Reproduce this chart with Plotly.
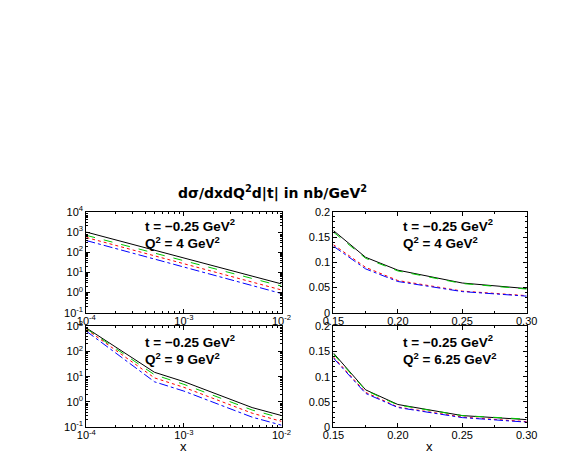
import plotly.graph_objects as go

# panel a: Q^2 = 4, small x (log-log)
x_a = [1e-4, 5e-4, 1e-3, 5e-3, 1e-2]
black_a = [1000, 125, 52, 6.5, 2.7]
green_a = [690, 91, 38, 5.0, 2.1]
red_a = [540, 66, 27, 3.3, 1.35]
blue_a = [380, 46, 18.5, 2.2, 0.9]

# panel b: Q^2 = 4, large x
x_b = [0.15, 0.175, 0.20, 0.25, 0.30]
black_b = [0.163, 0.110, 0.0845, 0.059, 0.048]
green_b = [0.160, 0.108, 0.083, 0.058, 0.047]
red_b = [0.135, 0.090, 0.064, 0.043, 0.034]
blue_b = [0.132, 0.087, 0.062, 0.042, 0.033]

# panel c: Q^2 = 9, small x
x_c = [1e-4, 5e-4, 1e-3, 5e-3, 1e-2]
black_c = [860, 15, 6.4, 0.6, 0.29]
green_c = [800, 12, 5.0, 0.48, 0.23]
red_c = [760, 9, 3.8, 0.36, 0.17]
blue_c = [640, 6.3, 2.7, 0.25, 0.12]

# panel d: Q^2 = 6.25, large x
x_d = [0.15, 0.175, 0.20, 0.25, 0.30]
black_d = [0.147, 0.074, 0.045, 0.023, 0.015]
green_d = [0.145, 0.073, 0.044, 0.023, 0.016]
red_d = [0.139, 0.069, 0.040, 0.020, 0.011]
blue_d = [0.137, 0.067, 0.039, 0.019, 0.010]

styles = [("black", "solid"), ("#00c800", "dash"), ("red", "dot"), ("blue", "dashdot")]

fig = go.Figure()

panels = [
    ("x", "y", x_a, [black_a, green_a, red_a, blue_a]),
    ("x2", "y2", x_b, [black_b, green_b, red_b, blue_b]),
    ("x3", "y3", x_c, [black_c, green_c, red_c, blue_c]),
    ("x4", "y4", x_d, [black_d, green_d, red_d, blue_d]),
]
for xa, ya, xs, series in panels:
    for (col, dash), ys in zip(styles, series):
        fig.add_trace(go.Scatter(x=xs, y=ys, mode="lines", xaxis=xa, yaxis=ya,
                                 line=dict(color=col, dash=dash, width=1),
                                 showlegend=False))

font = dict(family="Liberation Sans, Arial, sans-serif", size=11, color="black")
axis_common = dict(showgrid=False, zeroline=False, showline=True, linecolor="black",
                   linewidth=1, mirror="allticks", ticks="inside", ticklen=4,
                   tickcolor="black", tickfont=font)

lx = [0.1224, 0.4773]
rx = [0.5717, 0.9231]
top = [0.339, 0.5637]
bot = [0.0842, 0.3089]

logx = dict(type="log", range=[-4, -2], tickvals=[1e-4, 1e-3, 1e-2],
            ticktext=["10<sup>-4</sup>", "10<sup>-3</sup>", "10<sup>-2</sup>"],
            ticklabelstandoff=-2,
            minor=dict(ticks="inside", ticklen=2, tickcolor="black", dtick="D1"))
linx = dict(range=[0.15, 0.30], tickvals=[0.15, 0.20, 0.25, 0.30],
            ticktext=["0.15", "0.20", "0.25", "0.30"],
            ticklabelstandoff=-2,
            minor=dict(ticks="inside", ticklen=2, tickcolor="black", dtick=0.025))
liny = dict(range=[0, 0.2], tickvals=[0, 0.05, 0.1, 0.15, 0.2],
            ticktext=["0", "0.05", "0.1", "0.15", "0.2"],
            minor=dict(ticks="inside", ticklen=2, tickcolor="black", dtick=0.01))

def logy(lo, hi):
    vals = [10 ** k for k in range(lo, hi + 1)]
    return dict(type="log", range=[lo, hi], tickvals=vals,
                ticktext=["10<sup>%d</sup>" % k for k in range(lo, hi + 1)],
                minor=dict(ticks="inside", ticklen=2, tickcolor="black", dtick="D1"))

fig.update_layout(
    width=572, height=463, margin=dict(l=0, r=0, t=0, b=0),
    plot_bgcolor="white", paper_bgcolor="white", font=font,
    xaxis=dict(domain=lx, anchor="y", **logx, **axis_common),
    yaxis=dict(domain=top, anchor="x", **logy(-1, 4), **axis_common),
    xaxis2=dict(domain=rx, anchor="y2", **linx, **axis_common),
    yaxis2=dict(domain=top, anchor="x2", **liny, **axis_common),
    xaxis3=dict(domain=lx, anchor="y3", **logx, **axis_common),
    yaxis3=dict(domain=bot, anchor="x3", **logy(-1, 3), **axis_common),
    xaxis4=dict(domain=rx, anchor="y4", **linx, **axis_common),
    yaxis4=dict(domain=bot, anchor="x4", **liny, **axis_common),
)

# x axis titles under the bottom panels
for px in (171, 427):
    fig.add_annotation(x=px / 572, y=1 - 444 / 463, xref="paper", yref="paper",
                       xanchor="center", yanchor="middle", showarrow=False,
                       text="x", font=dict(font, size=13))

bold = dict(family="Liberation Sans, Arial, sans-serif", size=13.5, color="black")
labels = [
    (129, 204, "<b>t = \u22120.25 GeV<sup>2</sup><br>Q<sup>2</sup> = 4 GeV<sup>2</sup></b>"),
    (397, 204, "<b>t = \u22120.25 GeV<sup>2</sup><br>Q<sup>2</sup> = 4 GeV<sup>2</sup></b>"),
    (129, 324, "<b>t = \u22120.25 GeV<sup>2</sup><br>Q<sup>2</sup> = 9 GeV<sup>2</sup></b>"),
    (397, 324, "<b>t = \u22120.25 GeV<sup>2</sup><br>Q<sup>2</sup> = 6.25 GeV<sup>2</sup></b>"),
]
for px, py, txt in labels:
    fig.add_annotation(x=px / 572, y=1 - py / 463, xref="paper", yref="paper",
                       xanchor="left", yanchor="top", align="left", showarrow=False,
                       text=txt, font=bold)

fig.add_annotation(x=264 / 572, y=1 - 182 / 463, xref="paper", yref="paper",
                   xanchor="center", yanchor="middle", showarrow=False,
                   text="<b>d\u03c3/dxdQ<sup>2</sup>d|t| in nb/GeV<sup>2</sup></b>",
                   font=dict(family="DejaVu Sans, sans-serif", size=14, color="black"))

fig.write_html("out.html")
